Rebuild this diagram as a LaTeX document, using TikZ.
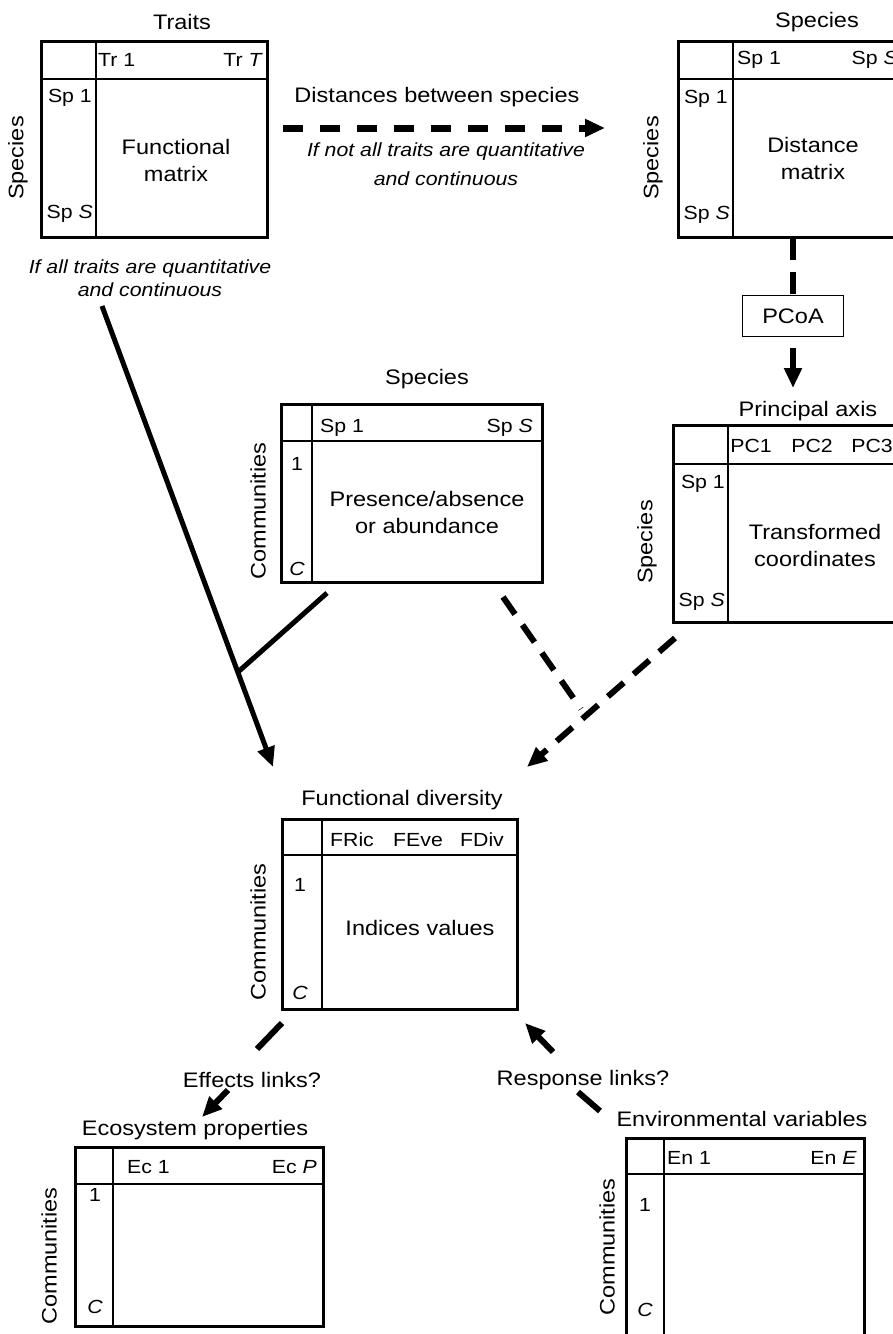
\documentclass[tikz,border=0pt]{standalone}
\usepackage{fontspec}
\setmainfont{Liberation Sans}[FakeStretch=1.12]
\usetikzlibrary{arrows.meta,fit}
\newcommand\matrixbox[7]{%
  \draw[innerline] (#6,#3) -- (#6,#5);
  \draw[innerline] (#2,#7) -- (#4,#7);
  \node[fit={(#2,#3)(#4,#5)}, draw, outerline, inner sep=0pt] (#1) {};
}
\begin{document}
\begin{tikzpicture}[x=1pt,y=-1pt,
  outerline/.style={line width=3pt},
  innerline/.style={line width=1.8pt},
  big/.style={font=\fontsize{21}{27}\selectfont, inner sep=0pt},
  lab/.style={font=\fontsize{19}{22}\selectfont, inner sep=0pt},
  itl/.style={font=\fontsize{19}{23}\selectfont\itshape, align=center, inner sep=0pt},
  conn/.style={line width=5pt},
  dconn/.style={line width=6pt, dash pattern=on 21pt off 13pt},
  tip/.style={-{Triangle[length=20pt,width=17pt]}},
]
\useasboundingbox (0,0) rectangle (893,1334);

% ---------- boxes ----------
\matrixbox{fm}{41}{41}{267}{237}{96}{79}
\matrixbox{dm}{678}{41}{905}{237}{733}{79}
\matrixbox{pa}{281}{404}{542}{582}{312}{441}
\matrixbox{tc}{673}{425}{905}{622}{728}{464}
\matrixbox{fd}{282}{819}{517}{1009}{322}{855}
\matrixbox{ep}{75}{1147}{323}{1326}{113}{1184}
\matrixbox{ev}{626}{1138}{864}{1345}{664}{1174}

% ---------- functional matrix ----------
\node[big] (fmt) at (182,22) {Traits};
\node[lab, anchor=west] (fmc1) at (98,60) {Tr 1};
\node[lab, anchor=east] (fmc2) at (263,60) {Tr \textit{T}};
\node[lab, anchor=east] (fmr1) at (92,98) {Sp 1};
\node[lab, anchor=east] (fmr2) at (93,214) {Sp \textit{S}};
\node[big, align=center] (fmx) at (176,160) {Functional\\matrix};
\node[big, rotate=90] (fmrow) at (18,158) {Species};
\node[itl] (fmi) at (150,278) {If all traits are quantitative\\and continuous};

% ---------- distance matrix ----------
\node[big] (dmt) at (817,22) {Species};
\node[lab, anchor=west] (dmc1) at (737,60) {Sp 1};
\node[lab, anchor=east] (dmc2) at (898,60) {Sp \textit{S}};
\node[lab, anchor=east] (dmr1) at (728,99) {Sp 1};
\node[lab, anchor=east] (dmr2) at (730,215) {Sp \textit{S}};
\node[big, align=center] (dmx) at (813,158) {Distance\\matrix};
\node[big, rotate=90] (dmrow) at (653,158) {Species};

% ---------- distances arrow ----------
\node[big] (dist) at (437,97) {Distances between species};
\node[itl, font=\fontsize{19}{29}\selectfont\itshape] (distit) at (446,164) {If not all traits are quantitative\\and continuous};
\coordinate (d1) at (283,128);
\coordinate (d2) at (605,128);
\draw[dconn, line width=7pt, dash pattern=on 20pt off 17pt, tip] (d1) -- (d2);

% ---------- PCoA ----------
\node[draw, line width=1.6pt, minimum width=101pt, minimum height=41pt, big] (pcoa) at (793,316) {PCoA};
\coordinate (dmb) at (793,238);
\draw[line width=6pt, dash pattern=on 22pt off 12pt] (dmb) -- (pcoa.north);
\coordinate (pc1) at (793,348);
\coordinate (pc2) at (793,388);
\draw[line width=6pt, tip] (pc1) -- (pc2);

% ---------- transformed coordinates ----------
\node[big] (tct) at (808,411) {Principal axis};
\node[lab] (tch1) at (751,446) {PC1};
\node[lab] (tch2) at (812,446) {PC2};
\node[lab] (tch3) at (872,446) {PC3};
\node[lab, anchor=east] (tcr1) at (725,484) {Sp 1};
\node[lab, anchor=east] (tcr2) at (725,602) {Sp \textit{S}};
\node[big, align=center] (tcx) at (815,545) {Transformed\\coordinates};
\node[big, rotate=90] (tcrow) at (647,542) {Species};

% ---------- presence / absence ----------
\node[big] (pat) at (427,379) {Species};
\node[lab, anchor=west] (pac1) at (320,428) {Sp 1};
\node[lab, anchor=east] (pac2) at (533,428) {Sp \textit{S}};
\node[lab] (par1) at (297,464) {1};
\node[lab] (par2) at (297,569) {\textit{C}};
\node[big, align=center] (pax) at (427,512) {Presence/absence\\or abundance};
\node[big, rotate=90] (parow) at (258,511) {Communities};

% ---------- functional diversity ----------
\node[big] (fdt) at (402,800) {Functional diversity};
\node[lab] (fdh1) at (352,840) {FRic};
\node[lab] (fdh2) at (418,840) {FEve};
\node[lab] (fdh3) at (482,840) {FDiv};
\node[lab] (fdr1) at (300,885) {1};
\node[lab] (fdr2) at (300,993) {\textit{C}};
\node[big] (fdx) at (420,928) {Indices values};
\node[big, rotate=90] (fdrow) at (258,932) {Communities};

% ---------- ecosystem properties ----------
\node[big] (ept) at (195,1130) {Ecosystem properties};
\node[lab, anchor=west] (epc1) at (127,1167) {Ec 1};
\node[lab, anchor=east] (epc2) at (317,1167) {Ec \textit{P}};
\node[lab] (epr1) at (95,1195) {1};
\node[lab] (epr2) at (95,1307) {\textit{C}};
\node[big, rotate=90] (eprow) at (49,1256) {Communities};

% ---------- environmental variables ----------
\node[big] (evt) at (742,1119) {Environmental variables};
\node[lab, anchor=west] (evc1) at (667,1158) {En 1};
\node[lab, anchor=east] (evc2) at (857,1158) {En \textit{E}};
\node[lab] (evr1) at (645,1205) {1};
\node[lab] (evr2) at (645,1310) {\textit{C}};
\node[big, rotate=90] (evrow) at (607,1247) {Communities};

% ---------- connectors to functional diversity ----------
\coordinate (s1) at (102,306);
\coordinate (s2) at (273,767);
\draw[conn, tip] (s1) -- (s2);
\coordinate (b1) at (327,593);
\coordinate (j) at (238,672);
\draw[conn] (b1) -- (j);

\coordinate (p1) at (503,597);
\coordinate (p2) at (581,709);
\draw[dconn] (p1) -- (p2);
\coordinate (t1) at (675,638);
\coordinate (t2) at (527,767);
\draw[dconn, tip] (t1) -- (t2);

% ---------- effects / response ----------
\node[big] (eff) at (252,1080) {Effects links?};
\node[big] (resp) at (583,1080) {Response links?};
\coordinate (e1) at (282,1023);
\coordinate (e2) at (257,1049);
\coordinate (e3) at (228,1090);
\coordinate (e4) at (202,1117);
\draw[line width=6pt] (e1) -- (e2);
\draw[line width=6pt, tip] (e3) -- (e4);
\coordinate (r1) at (600,1111);
\coordinate (r2) at (578,1092);
\coordinate (r3) at (553,1052);
\coordinate (r4) at (525,1023);
\draw[line width=6pt] (r1) -- (r2);
\draw[line width=6pt, tip] (r3) -- (r4);
\end{tikzpicture}
\end{document}
